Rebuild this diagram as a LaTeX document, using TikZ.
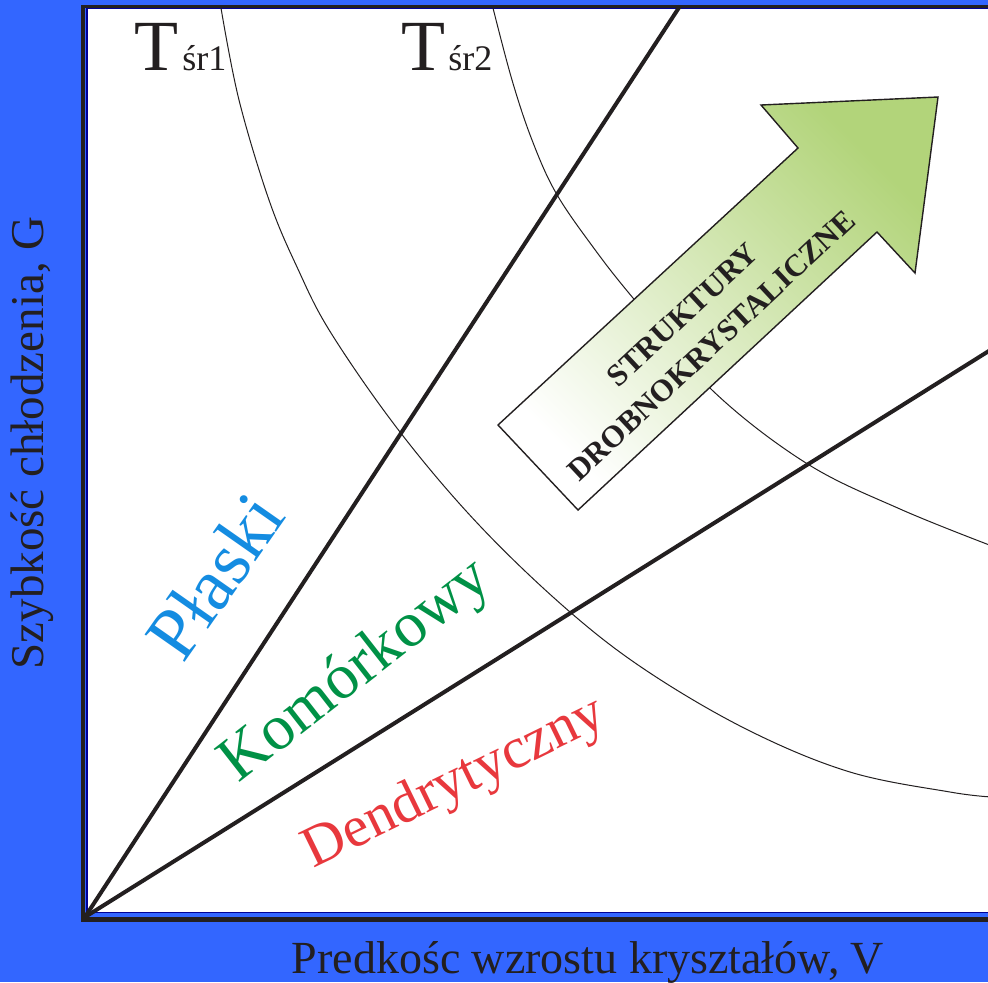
\documentclass[tikz,border=0pt]{standalone}
\usepackage{fontspec}
\setmainfont{Liberation Serif}
\definecolor{bgblue}{RGB}{51,102,255}
\definecolor{navy}{RGB}{0,0,150}
\definecolor{ink}{RGB}{35,31,32}
\definecolor{plblue}{RGB}{20,140,225}
\definecolor{kogreen}{RGB}{0,145,70}
\definecolor{dered}{RGB}{232,56,61}
\definecolor{arrowgreen}{RGB}{178,212,122}
\begin{document}
\begin{tikzpicture}[x=0.5pt,y=-0.5pt,
  thickline/.style={draw=ink, line width=2pt},
  arcline/.style={draw=ink, line width=0.5pt},
  lbl/.style={inner sep=0pt, text=ink},
]
\useasboundingbox (0,0) rectangle (988,982);
\fill[bgblue] (0,0) rectangle (988,982);
% frame
\draw[navy, line width=0.9pt, fill=white] (87,8.5) rectangle (1010,912.5);
\draw[ink, line width=1.5pt] (81,6.5) -- (1010,6.5);
\draw[ink, line width=2pt] (83,5) -- (83,921);
\draw[ink, line width=2.5pt] (81,919) -- (1010,919);
\coordinate (O) at (85,917);
\coordinate (L1end) at (680,6);
\coordinate (L2end) at (992,349);
% arcs
\draw[arcline] plot[smooth, tension=0.6] coordinates {(221,8) (239,100) (269,200) (297,267) (331,333) (400,432) (480,526) (570,612) (650,673) (750,731) (850,772) (950,792) (992,797)};
\draw[arcline] plot[smooth, tension=0.6] coordinates {(493,8) (512,80) (532,140) (556,193) (593,247) (633,298) (712,390) (806,463) (900,509) (992,546)};
% region lines
\draw[thickline] (O) -- (L1end);
\draw[thickline] (O) -- (L2end);
% arrow
\path[draw=ink, line width=0.7pt, top color=arrowgreen, middle color=arrowgreen!45!white, bottom color=white, shading angle=-45]
  (498,425) -- (798,148) -- (761,105) -- (938,97) -- (915,273) -- (877,232) -- (578,510) -- cycle;
\node[lbl, rotate=43, align=center, font=\fontsize{15.5pt}{21pt}\selectfont\bfseries] (arrtxt) at (697,330) {STRUKTURY\\DROBNOKRYSTALICZNE};
% T labels
\node[lbl, anchor=base west, font=\fontsize{36pt}{40pt}\selectfont] (T1) at (134,70) {T};
\node[lbl, anchor=base west, font=\fontsize{18pt}{20pt}\selectfont] (s1) at (182,70) {śr1};
\node[lbl, anchor=base west, font=\fontsize{36pt}{40pt}\selectfont] (T2) at (401,70) {T};
\node[lbl, anchor=base west, font=\fontsize{18pt}{20pt}\selectfont] (s2) at (448,70) {śr2};
% region labels
\node[inner sep=0pt, text=plblue, rotate=55, font=\fontsize{37pt}{40pt}\selectfont] (pl) at (215,576) {Płaski};
\node[inner sep=0pt, text=kogreen, rotate=38, font=\fontsize{32pt}{34pt}\selectfont] (ko) at (357,672) {Komórkowy};
\node[inner sep=0pt, text=dered, rotate=26, font=\fontsize{29pt}{32pt}\selectfont] (de) at (455,784) {Dendrytyczny};
% axis labels
\node[lbl, anchor=base, font=\fontsize{23pt}{26pt}\selectfont] (xlab) at (588,973) {Predkośc wzrostu kryształów, V};
\node[lbl, anchor=base, rotate=90, font=\fontsize{23.5pt}{26pt}\selectfont] (ylab) at (43,443) {Szybkość chłodzenia, G};
\end{tikzpicture}
\end{document}
